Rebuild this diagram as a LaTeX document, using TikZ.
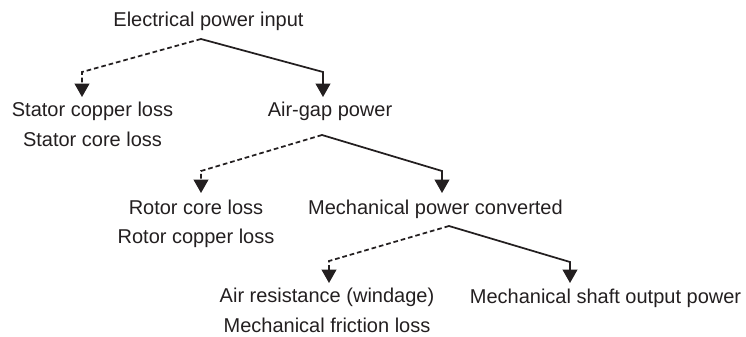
\documentclass[tikz,border=0pt]{standalone}
\usepackage{fontspec}
\setmainfont{Liberation Sans}
\usetikzlibrary{arrows.meta}
\definecolor{ink}{HTML}{231F20}
\begin{document}
\begin{tikzpicture}[x=0.75pt,y=-0.75pt,
  lbl/.style={inner sep=0pt,anchor=base,align=center,text=ink,
    font=\fontsize{15}{22}\selectfont},
  conn/.style={draw=ink,line width=1.3pt,-{Triangle[width=11pt,length=10pt]}},
  lossconn/.style={conn,dash pattern=on 3.5pt off 2.2pt}]
\useasboundingbox (0,0) rectangle (746,336);
% labels (multi-line nodes: base = baseline of last line)
\node[lbl] (epi) at (208.5,26) {Electrical power input};
\node[lbl] (stat) at (92.5,146) {Stator copper loss\\Stator core loss};
\node[lbl] (agp) at (330,116.5) {Air-gap power};
\node[lbl] (rot) at (196,243.5) {Rotor core loss\\Rotor copper loss};
\node[lbl] (mpc) at (435.5,214) {Mechanical power converted};
\node[lbl] (air) at (327,332) {Air resistance (windage)\\Mechanical friction loss};
\node[lbl] (msop) at (605.5,303) {Mechanical shaft output power};
% branch points
\coordinate (a1) at (201,39);
\coordinate (k1l) at (82,72);   \coordinate (t1l) at (82,97);
\coordinate (k1r) at (323,72);  \coordinate (t1r) at (323,97);
\coordinate (a2) at (322,135);
\coordinate (k2l) at (201,171); \coordinate (t2l) at (201,193);
\coordinate (k2r) at (442,171); \coordinate (t2r) at (442,193);
\coordinate (a3) at (449,226);
\coordinate (k3l) at (329,261); \coordinate (t3l) at (329,283);
\coordinate (k3r) at (570,262); \coordinate (t3r) at (570,283);
% connectors
\draw[lossconn] (a1) -- (k1l) -- (t1l);
\draw[conn] (a1) -- (k1r) -- (t1r);
\draw[lossconn] (a2) -- (k2l) -- (t2l);
\draw[conn] (a2) -- (k2r) -- (t2r);
\draw[lossconn] (a3) -- (k3l) -- (t3l);
\draw[conn] (a3) -- (k3r) -- (t3r);
\end{tikzpicture}
\end{document}
